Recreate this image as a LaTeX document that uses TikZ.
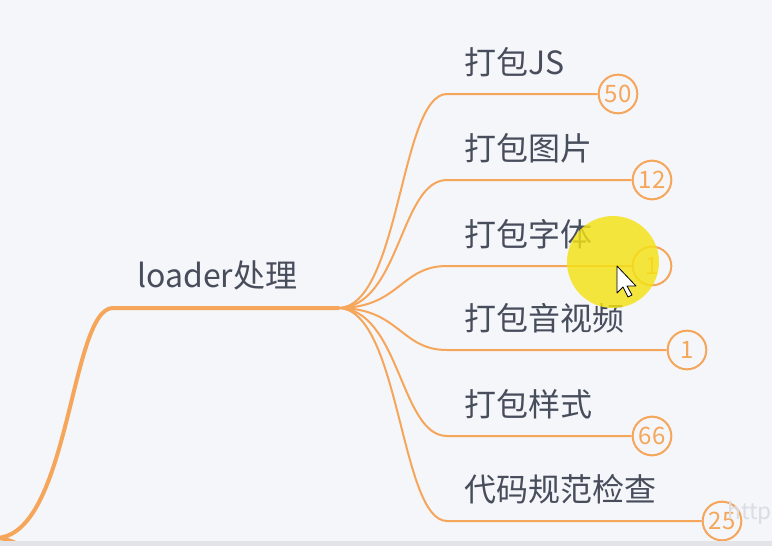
\documentclass[tikz,border=0pt]{standalone}
\usepackage{fontspec}
\newfontfamily\cjk{Noto Sans CJK SC}
\definecolor{mapOrange}{RGB}{246,166,90}
\definecolor{mapText}{RGB}{72,77,92}
\definecolor{mapBack}{RGB}{244,246,250}
\definecolor{mapStrip}{RGB}{226,228,232}
\definecolor{mapYellow}{RGB}{244,226,20}
\definecolor{mapMark}{RGB}{218,221,228}
\tikzset{
  topic/.style={anchor=base west,inner sep=0.75pt,text=mapText,font=\cjk\fontsize{24}{28}\selectfont},
  numring/.style={circle,draw=mapOrange,line width=1.5pt,fill=mapBack,minimum size=29pt,inner sep=0pt,text=mapOrange,font=\cjk\fontsize{18}{20}\selectfont},
  branch/.style={draw=mapOrange,line width=1.5pt},
  trunk/.style={draw=mapOrange,line width=3pt,line cap=round},
}

\begin{document}
\begin{tikzpicture}[x=0.75pt,y=0.75pt,yscale=-1,xscale=1]
%set diagram at 772 x 546
\useasboundingbox (0,0) rectangle (772,546);
\fill [mapBack] (0,0) rectangle (772,546);

%Points
\coordinate (root) at (-5,538);
\coordinate (rootLow) at (42,552);
\coordinate (loaderL) at (113,308);
\coordinate (fan) at (338,308);
\coordinate (jsL) at (447,94);
\coordinate (imgL) at (447,180);
\coordinate (fontL) at (447,266);
\coordinate (mediaL) at (447,350);
\coordinate (styleL) at (447,436);
\coordinate (lintL) at (447,521);

% Text Node
\node (loader) at (136,287) [topic] {loader处理};
% Text Node
\node (js) at (463,74) [topic] {打包JS};
% Text Node
\node (img) at (463,160) [topic] {打包图片};
% Text Node
\node (font) at (463,246) [topic] {打包字体};
% Text Node
\node (media) at (463,330) [topic] {打包音视频};
% Text Node
\node (style) at (463,416) [topic] {打包样式};
% Text Node
\node (lint) at (463,501) [topic] {代码规范检查};

%Count Circles
\node (jsN) at (618,94) [numring] {50};
\node (imgN) at (652,180) [numring] {12};
\node (fontN) at (652,266) [numring] {1};
\node (mediaN) at (687,350) [numring] {1};
\node (styleN) at (652,436) [numring] {66};
\node (lintN) at (722,521) [numring] {25};

%Curve Lines
\draw [trunk] (root) .. controls +(75,0) and +(-43,0) .. (loaderL) -- (fan) ;
\draw [trunk] (root) .. controls +(18,0) and +(-22,-4) .. (rootLow) ;
\draw [branch] (fan) .. controls +(62,0) and +(-47,0) .. (jsL) -- (jsN) ;
\draw [branch] (fan) .. controls +(62,0) and +(-47,0) .. (imgL) -- (imgN) ;
\draw [branch] (fan) .. controls +(62,0) and +(-47,0) .. (fontL) -- (fontN) ;
\draw [branch] (fan) .. controls +(62,0) and +(-47,0) .. (mediaL) -- (mediaN) ;
\draw [branch] (fan) .. controls +(62,0) and +(-47,0) .. (styleL) -- (styleN) ;
\draw [branch] (fan) .. controls +(62,0) and +(-47,0) .. (lintL) -- (lintN) ;

%Bottom Strip
\fill [mapStrip] (0,541) rectangle (772,546);

%Pointer Highlight
\fill [mapYellow,opacity=0.82] (613,262) circle [radius=46];
\coordinate (tip) at (617,266);
\draw [black,line width=0.6pt,fill=white,line join=round] (tip) -- ++(0,27) -- ++(6,-6) -- ++(5,10) -- ++(4,-2) -- ++(-5,-9) -- ++(9,0) -- cycle ;

% Text Node
\node (mark) at (727,513) [anchor=west,inner sep=0pt,text=mapMark,font=\cjk\fontsize{17}{19}\selectfont] {https};

\end{tikzpicture}
\end{document}
